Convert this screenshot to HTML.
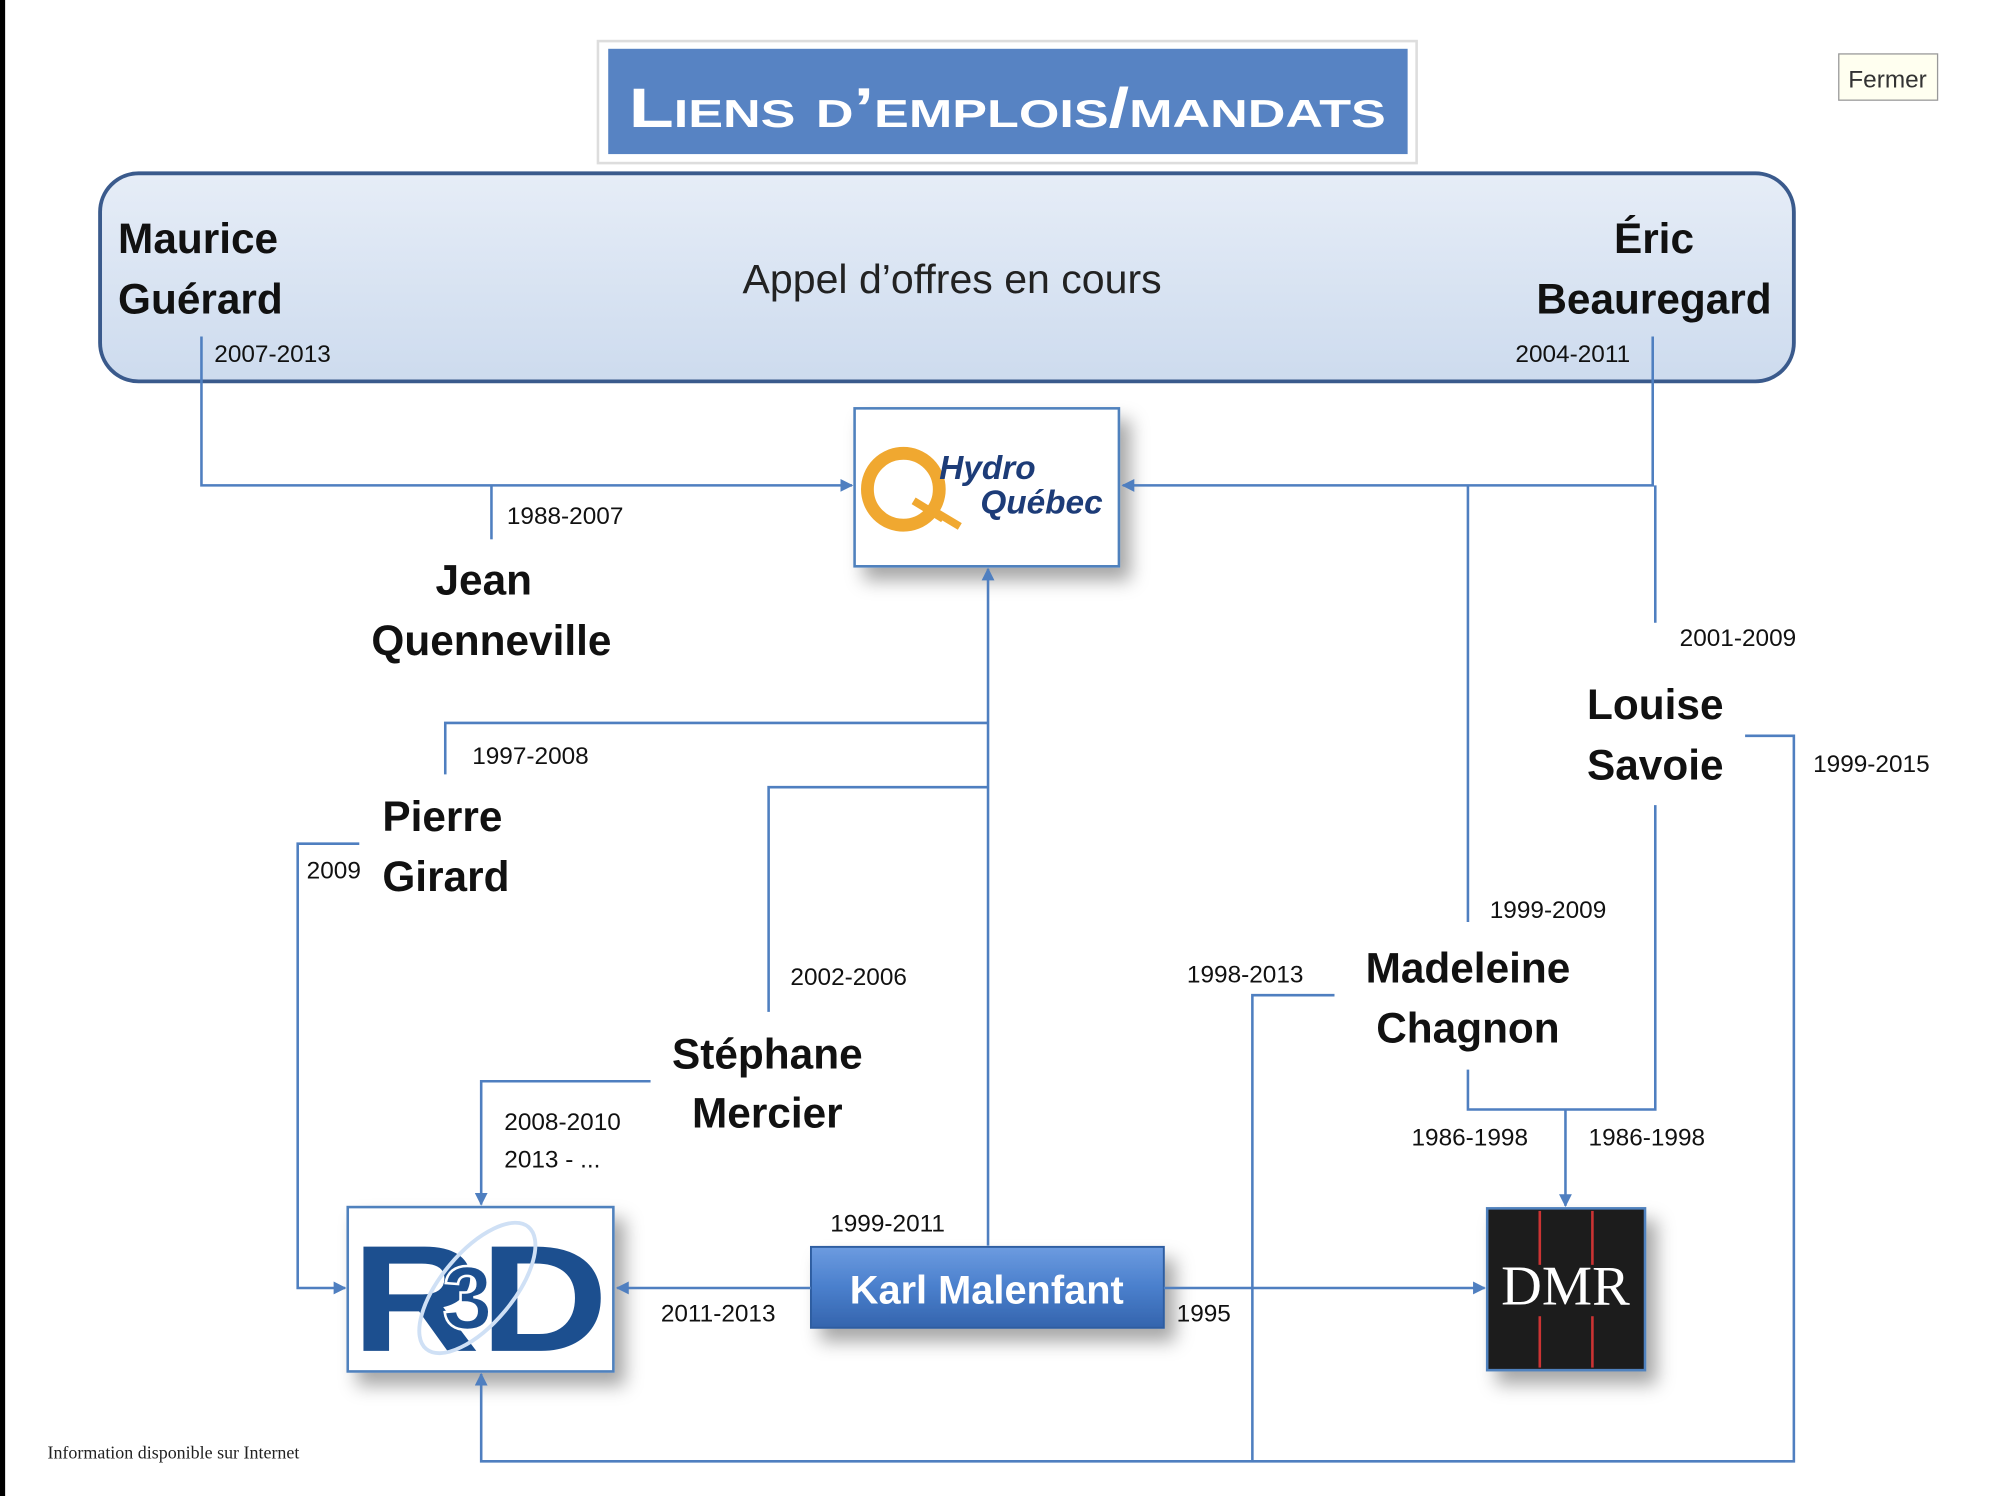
<!DOCTYPE html>
<html><head><meta charset="utf-8"><style>
html,body{margin:0;padding:0;background:#fff;width:2012px;height:1496px;overflow:hidden}
svg{display:block}
text{font-family:"Liberation Sans","DejaVu Sans",sans-serif}
.n{font-weight:bold;font-size:33px;fill:#111}
.d{font-size:19px;fill:#111}
</style></head><body>
<svg width="2012" height="1496" viewBox="0 0 1568 1165" preserveAspectRatio="none" xmlns="http://www.w3.org/2000/svg">
<defs>
<linearGradient id="g1" x1="0" y1="0" x2="0" y2="1"><stop offset="0" stop-color="#e6edf7"/><stop offset="1" stop-color="#cddbee"/></linearGradient>
<linearGradient id="g2" x1="0" y1="0" x2="0" y2="1"><stop offset="0" stop-color="#6c9be0"/><stop offset="0.5" stop-color="#4a7fcc"/><stop offset="1" stop-color="#3464ad"/></linearGradient>
<filter id="sh" x="-20%" y="-20%" width="150%" height="160%"><feDropShadow dx="8" dy="10" stdDeviation="7" flood-color="#000" flood-opacity="0.35"/></filter>
<marker id="ar" markerWidth="10" markerHeight="10" refX="9" refY="5" orient="auto" markerUnits="userSpaceOnUse"><path d="M0,0 L10,5 L0,10 z" fill="#4f7fc0"/></marker>
</defs>
<rect x="0" y="0" width="4" height="1165" fill="#000"/>
<rect x="466" y="32" width="638" height="95" fill="#fff" stroke="#ddd" stroke-width="2"/>
<rect x="474" y="38" width="623" height="82" fill="#5783c3"/>
<text x="785" y="99" text-anchor="middle" fill="#fff" font-weight="bold" font-size="43" style="font-variant:small-caps" textLength="590" lengthAdjust="spacingAndGlyphs">Liens d’emplois/mandats</text>
<rect x="1433" y="42" width="77" height="36" fill="#fffff0" stroke="#999"/>
<text x="1471" y="68" text-anchor="middle" font-size="19" fill="#333">Fermer</text>
<rect x="78" y="135" width="1320" height="162" rx="30" fill="url(#g1)" stroke="#3a5a8c" stroke-width="3"/>
<text class="n" x="92" y="197">Maurice</text>
<text class="n" x="92" y="244">Guérard</text>
<text x="742" y="228" text-anchor="middle" font-size="32" fill="#222">Appel d’offres en cours</text>
<text class="n" x="1289" y="197" text-anchor="middle">Éric</text>
<text class="n" x="1289" y="244" text-anchor="middle">Beauregard</text>
<text class="d" x="167" y="282">2007-2013</text>
<text class="d" x="1181" y="282">2004-2011</text>
<rect x="666" y="318" width="206" height="123" fill="#fff" stroke="#4f81bd" stroke-width="2" filter="url(#sh)"/>
<circle cx="704" cy="381" r="28" fill="none" stroke="#f0a830" stroke-width="10"/>
<path d="M712,390 L735,404 L728,398 L748,410" stroke="#f0a830" stroke-width="6" fill="none"/>
<text x="732" y="373" font-size="26" font-weight="bold" font-style="italic" fill="#1d3c78">Hydro</text>
<text x="764" y="400" font-size="26" font-weight="bold" font-style="italic" fill="#1d3c78">Québec</text>
<rect x="271" y="940" width="207" height="128" fill="#fff" stroke="#4f81bd" stroke-width="2" filter="url(#sh)"/>
<text x="274" y="1052" font-size="118" font-weight="bold" fill="#1c4f8f" textLength="200" lengthAdjust="spacingAndGlyphs">RD</text>
<ellipse cx="372" cy="1003" rx="28" ry="62" transform="rotate(40 372 1003)" fill="none" stroke="#cfe0f5" stroke-width="3"/>
<text x="345" y="1035" font-size="70" font-weight="bold" fill="#1c4f8f" stroke="#fff" stroke-width="2">3</text>
<rect x="1159" y="941" width="123" height="126" fill="#1e1a1a" stroke="#4f81bd" stroke-width="2" filter="url(#sh)"/>
<line x1="1200" y1="943" x2="1200" y2="985" stroke="#c33" stroke-width="2"/>
<line x1="1241" y1="943" x2="1241" y2="985" stroke="#c33" stroke-width="2"/>
<line x1="1200" y1="1025" x2="1200" y2="1065" stroke="#c33" stroke-width="2"/>
<line x1="1241" y1="1025" x2="1241" y2="1065" stroke="#c33" stroke-width="2"/>
<text x="1220" y="1016" text-anchor="middle" font-size="44" fill="#fff" style="font-family:'Liberation Serif',serif">DMR</text>
<rect x="632" y="971" width="275" height="63" fill="url(#g2)" stroke="#2d5da0" stroke-width="1.5" filter="url(#sh)"/>
<text x="769" y="1015" text-anchor="middle" font-weight="bold" font-size="31" fill="#fff">Karl Malenfant</text>
<g stroke="#4f7fc0" stroke-width="2" fill="none">
<path d="M157,262 V378 H664" marker-end="url(#ar)"/>
<path d="M383,378 V420"/>
<path d="M1288,262 V378 H875" marker-end="url(#ar)"/>
<path d="M1144,378 V718"/>
<path d="M1290,378 V485"/>
<path d="M1360,573 H1398 V1138 H375 V1070" marker-end="url(#ar)"/>
<path d="M1290,627 V864 H1144 V833"/>
<path d="M1220,864 V939" marker-end="url(#ar)"/>
<path d="M1040,775 H976 V1138"/>
<path d="M770,970 V443" marker-end="url(#ar)"/>
<path d="M770,563 H347 V603"/>
<path d="M770,613 H599 V788"/>
<path d="M280,657 H232 V1003 H269" marker-end="url(#ar)"/>
<path d="M507,842 H375 V938" marker-end="url(#ar)"/>
<path d="M632,1003 H481" marker-end="url(#ar)"/>
<path d="M907,1003 H1157" marker-end="url(#ar)"/>
</g>
<text class="n" x="377" y="463" text-anchor="middle">Jean</text>
<text class="n" x="383" y="510" text-anchor="middle">Quenneville</text>
<text class="n" x="298" y="647">Pierre</text>
<text class="n" x="298" y="694">Girard</text>
<text class="n" x="598" y="832" text-anchor="middle">Stéphane</text>
<text class="n" x="598" y="878" text-anchor="middle">Mercier</text>
<text class="n" x="1290" y="560" text-anchor="middle">Louise</text>
<text class="n" x="1290" y="607" text-anchor="middle">Savoie</text>
<text class="n" x="1144" y="765" text-anchor="middle">Madeleine</text>
<text class="n" x="1144" y="812" text-anchor="middle">Chagnon</text>
<text class="d" x="395" y="408">1988-2007</text>
<text class="d" x="1309" y="503">2001-2009</text>
<text class="d" x="1413" y="601">1999-2015</text>
<text class="d" x="368" y="595">1997-2008</text>
<text class="d" x="239" y="684">2009</text>
<text class="d" x="616" y="767">2002-2006</text>
<text class="d" x="1161" y="715">1999-2009</text>
<text class="d" x="925" y="765">1998-2013</text>
<text class="d" x="1100" y="892">1986-1998</text>
<text class="d" x="1238" y="892">1986-1998</text>
<text class="d" x="393" y="880">2008-2010</text>
<text class="d" x="393" y="909">2013 - ...</text>
<text class="d" x="647" y="959">1999-2011</text>
<text class="d" x="515" y="1029">2011-2013</text>
<text class="d" x="917" y="1029">1995</text>
<text x="37" y="1136" font-size="14" fill="#222" style="font-family:'Liberation Serif',serif">Information disponible sur Internet</text>
</svg>
</body></html>
